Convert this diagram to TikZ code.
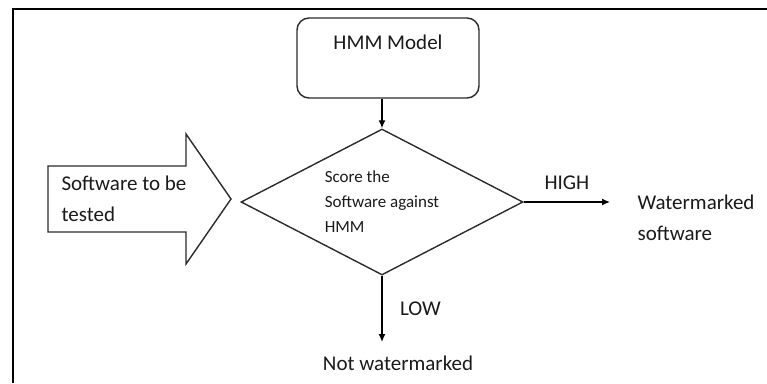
\documentclass[tikz,border=0pt]{standalone}
\usepackage{fontspec}
\setmainfont{Carlito}
\usetikzlibrary{shapes.geometric,arrows.meta,positioning}
\definecolor{inkgray}{HTML}{2B2B2B}
\definecolor{textgray}{HTML}{1A1A1A}
\tikzset{>={Latex[length=8pt,width=7pt]}}
\tikzset{
  frame/.style={line width=2.5pt,black},
  modelbox/.style={draw=inkgray,line width=1.4pt,rounded corners=12pt,
    minimum width=182pt,minimum height=80pt},
  decision/.style={draw=inkgray,line width=1.4pt,diamond,aspect=1.93,
    minimum width=282pt,minimum height=146pt,inner sep=0pt,align=left,
    font=\fontsize{17}{25}\selectfont,text=textgray},
  bigarrow/.style={draw=inkgray,line width=1.4pt},
  flow/.style={->,black,line width=1.4pt},
  word/.style={font=\fontsize{21}{31}\selectfont,text=textgray,align=left},
}
\begin{document}
\begin{tikzpicture}[x=1pt,y=1pt]
\useasboundingbox (0,0) rectangle (767,383);

% outer frame, cut off at right and bottom
\draw [frame] (13,0) -- (13,374) -- (767,374);

\node [modelbox,label={[word,anchor=center,yshift=-25pt]north:HMM Model}]
  (model) at (388,325) {};
\node [decision] (score) at (382,181) {Score the\\Software against\\HMM};

% input arrow
\coordinate (tail) at (48,184);
\draw [bigarrow] (tail) -- ++(0,33) -- ++(138,0) -- ++(0,32) -- (231,184)
  -- (186,119) -- ++(0,32) -- ++(-138,0) -- cycle;
\node [word,anchor=west] (input) at (58,184) {Software to be\\tested};

\coordinate (highend) at (610,181);
\coordinate (lowend) at (382,41);

\draw [flow] (model.south -| score.north) -- (score.north);
\draw [flow] (score.east) -- node [word,above=8pt] (high) {HIGH} (highend);
\draw [flow] (score.south) -- node [word,right=14pt] (low) {LOW} (lowend);

\node [word,anchor=west] (wm) at (634,165) {Watermarked\\software};
\node [word] (notwm) at (398,20) {Not watermarked};
\end{tikzpicture}
\end{document}
